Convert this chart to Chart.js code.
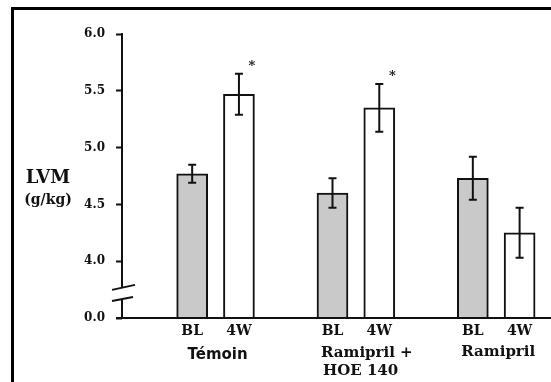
<!DOCTYPE html>
<html>
<head>
<meta charset="utf-8">
<script src="https://cdn.jsdelivr.net/npm/chart.js@4.4.0/dist/chart.umd.min.js"></script>
<style>
  html, body { margin: 0; padding: 0; background: #fff; }
  canvas { display: block; }
</style>
</head>
<body>
<canvas id="myChart" width="551" height="382"></canvas>
<script>
// spacer slots ('') keep the three groups apart
var categories = ['', 'BL', '4W', '', 'BL', '4W', '', 'BL', '4W'];
var groups = ['Témoin', 'Ramipril +\nHOE 140', 'Ramipril'];
var groupSlots = [1, 4, 7];
var lvm = [null, 4.77, 5.47, null, 4.60, 5.35, null, 4.73, 4.25];
var sem = [null, 0.08, 0.18, null, 0.13, 0.21, null, 0.19, 0.22];
var signif = ['', '', '*', '', '', '*', '', '', ''];
var yTicks = [3.5, 4.0, 4.5, 5.0, 5.5, 6.0];
var yTickLabels = ['0.0', '4.0', '4.5', '5.0', '5.5', '6.0'];

var ink = '#111';
var serif = "'DejaVu Serif', serif";

var sketch = {
    id: 'sketch',
    afterDatasetsDraw: function(chart) {
        var ctx = chart.ctx;
        var x = chart.scales.x;
        var y = chart.scales.y;
        var a = chart.chartArea;
        var meta = chart.getDatasetMeta(0);
        ctx.save();
        ctx.strokeStyle = ink;
        ctx.fillStyle = ink;
        ctx.lineWidth = 2;

        // y axis, broken between 0.0 and 4.0
        var ax = a.left;
        var bHi = y.getPixelForValue(3.765);
        var bLo = y.getPixelForValue(3.667);
        ctx.beginPath();
        ctx.moveTo(ax, a.top - 1); ctx.lineTo(ax, bHi);
        ctx.moveTo(ax, bLo); ctx.lineTo(ax, a.bottom);
        ctx.moveTo(ax - 10, bHi + 2); ctx.lineTo(ax + 13, bHi - 3);
        ctx.moveTo(ax - 10, bLo + 2); ctx.lineTo(ax + 11, bLo - 2);
        ctx.stroke();

        // x axis
        ctx.beginPath();
        ctx.moveTo(ax - 6, a.bottom);
        ctx.lineTo(chart.width, a.bottom);
        ctx.stroke();

        // error bars and stars
        meta.data.forEach(function(bar, i) {
            if (lvm[i] == null) return;
            var top = y.getPixelForValue(lvm[i] + sem[i]);
            var bot = y.getPixelForValue(lvm[i] - sem[i]);
            ctx.beginPath();
            ctx.moveTo(bar.x, top); ctx.lineTo(bar.x, bot);
            ctx.moveTo(bar.x - 4, top); ctx.lineTo(bar.x + 4, top);
            ctx.moveTo(bar.x - 4, bot); ctx.lineTo(bar.x + 4, bot);
            ctx.stroke();
            if (signif[i]) {
                ctx.font = 'bold 13px ' + serif;
                ctx.textAlign = 'center';
                ctx.textBaseline = 'middle';
                ctx.fillText(signif[i], bar.x + 13, top - 7);
            }
        });

        // group names
        groups.forEach(function(g, k) {
            var s = groupSlots[k];
            var mid = (x.getPixelForValue(s) + x.getPixelForValue(s + 1)) / 2;
            var lines = g.split('\n');
            ctx.textBaseline = 'middle';
            if (k === 0) {
                ctx.font = "bold 15px 'DejaVu Sans', sans-serif";
                ctx.textAlign = 'center';
                ctx.fillText(lines[0], mid + 2, 355);
            } else if (lines.length > 1) {
                ctx.font = 'bold 15px ' + serif;
                ctx.textAlign = 'left';
                var left = meta.data[s].x - meta.data[s].width / 2 + 4;
                ctx.fillText(lines[0], left, 353);
                ctx.fillText(lines[1], left + 2, 371);
            } else {
                ctx.font = 'bold 15px ' + serif;
                ctx.textAlign = 'center';
                ctx.fillText(lines[0], mid + 2, 352);
            }
        });

        // y title
        ctx.textAlign = 'center';
        ctx.textBaseline = 'middle';
        ctx.font = 'bold 18px ' + serif;
        ctx.fillText('LVM', 48, 178);
        ctx.font = 'bold 14px ' + serif;
        ctx.fillText('(g/kg)', 48, 200);

        // frame of the scan
        ctx.fillStyle = '#000';
        ctx.fillRect(11, 7, 3, chart.height);
        ctx.fillRect(11, 7, chart.width, 3);
        ctx.restore();
    }
};

var chart = new Chart(document.getElementById('myChart').getContext('2d'), {
    type: 'bar',
    data: {
        labels: categories,
        datasets: [{
            data: lvm,
            backgroundColor: categories.map(c => c === 'BL' ? '#c9c9c9' : '#ffffff'),
            borderColor: ink,
            borderWidth: 2,
            borderSkipped: false,
            barThickness: 31
        }]
    },
    options: {
        responsive: false,
        animation: false,
        devicePixelRatio: 1,
        layout: { padding: { left: 0, top: 34, right: 8, bottom: 0 } },
        plugins: { legend: { display: false }, tooltip: { enabled: false } },
        scales: {
            x: {
                grid: { display: false, drawTicks: false },
                border: { display: false },
                ticks: { color: ink, padding: 5, font: { family: serif, size: 14, weight: 'bold' } },
                afterFit: function(s) { s.height = 64; }
            },
            y: {
                min: 3.5,
                max: 6.0,
                afterBuildTicks: function(s) { s.ticks = yTicks.map(v => ({ value: v })); },
                grid: { drawOnChartArea: false, drawTicks: true, tickLength: 6, tickWidth: 2, tickColor: ink, color: ink },
                border: { display: false },
                ticks: {
                    color: ink,
                    padding: 11,
                    font: { family: serif, size: 12, weight: 'bold' },
                    callback: function(v, i) { return yTickLabels[i]; }
                },
                afterFit: function(s) { s.width = 122; }
            }
        }
    },
    plugins: [sketch]
});
</script>
</body>
</html>
